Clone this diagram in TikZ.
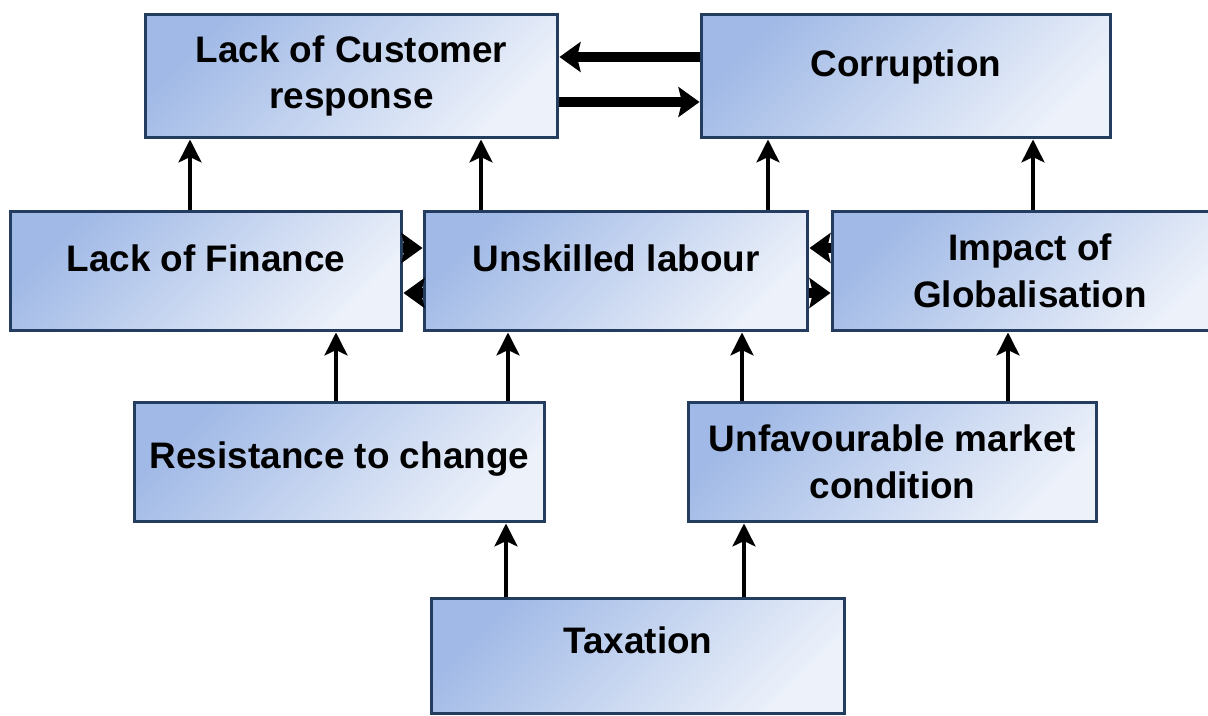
\documentclass[tikz,border=0pt]{standalone}
\usepackage{fontspec}
\setmainfont{Liberation Sans}
\usetikzlibrary{arrows.meta}
\definecolor{boxline}{RGB}{36,60,96}
\definecolor{boxtop}{RGB}{160,185,230}
\definecolor{boxbot}{RGB}{236,241,250}
\tikzset{
  causebox/.style={draw=boxline, line width=1.7pt, top color=boxtop, bottom color=boxbot,
    shading angle=45, align=center, inner sep=0pt, minimum height=2.4cm,
    font=\bfseries\fontsize{21}{26.5}\selectfont},
  causearrow/.style={line width=2.3pt, -{Stealth[length=13pt,width=13pt,inset=3pt]}},
  thickarrow/.style={line width=5.5pt, -{Stealth[length=12pt,width=17pt,inset=2pt]}}
}

\begin{document}
\begin{tikzpicture}[x=0.02cm,y=-0.02cm]
\useasboundingbox (0,0) rectangle (1208,716);
\node[causebox, minimum width=8.26cm, minimum height=2.48cm] (CustomerResponse) at (351.5,76) {Lack of Customer\\response};
\node[causebox, minimum width=8.2cm, minimum height=2.48cm, text depth=0.52cm] (Corruption) at (906,76) {Corruption};
\node[causebox, minimum width=7.84cm, text depth=0.52cm] (Finance) at (206,271) {Lack of Finance};
\node[causebox, minimum width=7.68cm, text depth=0.52cm] (Labour) at (616,271) {Unskilled labour};
\node[causebox, minimum width=7.92cm] (Globalisation) at (1030,271) {Impact of\\Globalisation};
\node[causebox, minimum width=8.22cm, text depth=0.28cm] (Resistance) at (339.5,462) {Resistance to change};
\node[causebox, minimum width=8.18cm] (Market) at (892.5,462) {Unfavourable market\\condition};
\node[causebox, minimum width=8.28cm, minimum height=2.32cm, text depth=0.64cm] (Taxation) at (638,656) {Taxation};
\draw[causearrow] (190,0 |- Finance.north) -- (190,0 |- CustomerResponse.south);
\draw[causearrow] (481,0 |- Labour.north) -- (481,0 |- CustomerResponse.south);
\draw[causearrow] (768,0 |- Labour.north) -- (768,0 |- Corruption.south);
\draw[causearrow] (1033,0 |- Globalisation.north) -- (1033,0 |- Corruption.south);
\draw[causearrow] (336,0 |- Resistance.north) -- (336,0 |- Finance.south);
\draw[causearrow] (508,0 |- Resistance.north) -- (508,0 |- Labour.south);
\draw[causearrow] (742,0 |- Market.north) -- (742,0 |- Labour.south);
\draw[causearrow] (1008,0 |- Market.north) -- (1008,0 |- Globalisation.south);
\draw[causearrow] (506,0 |- Taxation.north) -- (506,0 |- Resistance.south);
\draw[causearrow] (744,0 |- Taxation.north) -- (744,0 |- Market.south);
\draw[thickarrow] (Corruption.west |- 0,57) -- (CustomerResponse.east |- 0,57);
\draw[thickarrow] (CustomerResponse.east |- 0,102) -- (Corruption.west |- 0,102);
\draw[thickarrow] (Finance.east |- 0,248) -- (Labour.west |- 0,248);
\draw[thickarrow] (Labour.west |- 0,293) -- (Finance.east |- 0,293);
\draw[thickarrow] (Globalisation.west |- 0,248) -- (Labour.east |- 0,248);
\draw[thickarrow] (Labour.east |- 0,293) -- (Globalisation.west |- 0,293);
\end{tikzpicture}
\end{document}
